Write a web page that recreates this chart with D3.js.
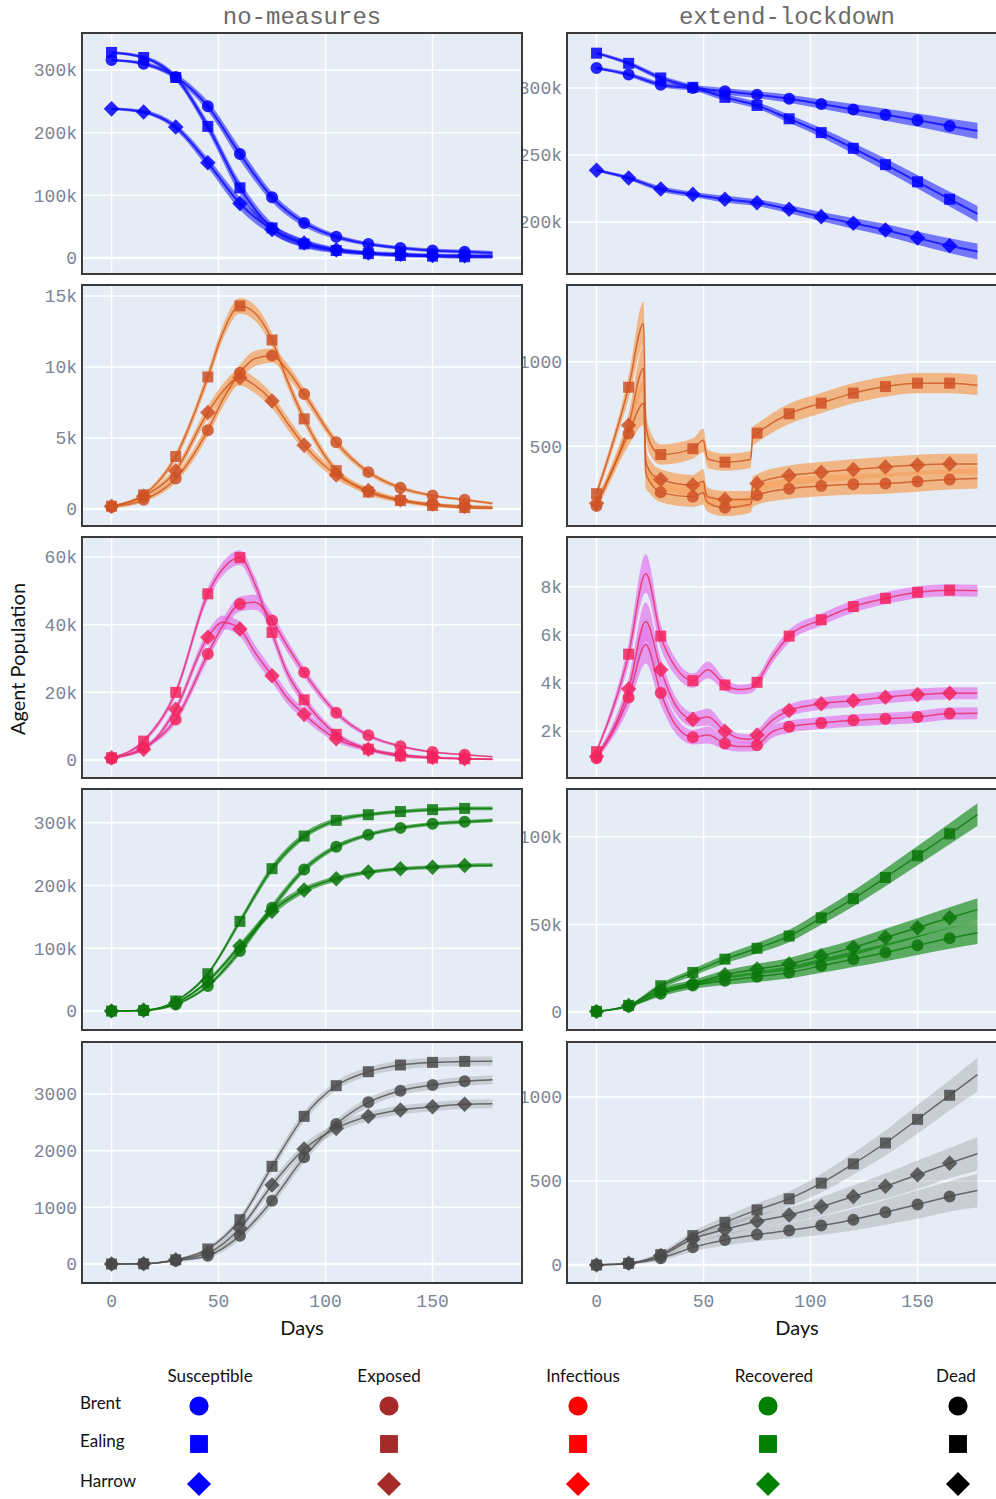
<!DOCTYPE html>
<html>
<head>
<meta charset="utf-8">
<script src="https://cdn.jsdelivr.net/npm/d3@7"></script>
<style>
  body { margin: 0; background: #fff; }
  svg { display: block; }
  .tick { font-family: 'Liberation Mono', 'Courier New', monospace; font-size: 18px; fill: #7b8496; }
  .col-title { font-family: 'Liberation Mono', 'Courier New', monospace; font-size: 24px; fill: #6a6a6a; }
  .axis-title { font-family: Lato, 'Open Sans', sans-serif; font-size: 20px; fill: #111; }
  .legend-text { font-family: Lato, 'Open Sans', sans-serif; font-size: 17px; fill: #111; }
</style>
</head>
<body>
<svg id="chart" width="996" height="1499"></svg>
<script>
// ---- labels ----
const BOROUGHS = ['Brent', 'Ealing', 'Harrow'];
const STATES = ['Susceptible', 'Exposed', 'Infectious', 'Recovered', 'Dead'];
const SCENARIOS = ['no-measures', 'extend-lockdown'];
const MARKER_DAYS = [0, 15, 30, 45, 60, 75, 90, 105, 120, 135, 150, 165];
const X_TICKS = [0, 50, 100, 150];

// ---- day grids the values were read at ----
const DAYS = [0, 15, 30, 45, 60, 75, 90, 105, 120, 135, 150, 165, 178];
const PEAK_DAYS = [0, 15, 30, 45, 52, 60, 67, 75, 82, 90, 105, 120, 135, 150, 165, 178];
const LOCK_E_DAYS = [0, 15, 22, 23, 25, 30, 45, 50, 51, 52, 60, 72, 73, 75, 90, 105, 120, 135, 150, 165, 178];
const LOCK_I_DAYS = [0, 15, 23, 30, 37, 45, 52, 60, 67, 72, 75, 82, 90, 105, 120, 135, 150, 165, 178];

// ---- Susceptible ----
const nmSusBrent  = [316000, 310000, 289000, 242000, 166000, 97000, 56000, 34000, 22500, 16000, 12000, 10000, 8000];
const nmSusEaling = [328000, 320000, 288000, 210000, 112000, 48000, 22500, 12000, 7000, 4000, 3000, 2000, 2000];
const nmSusHarrow = [238000, 233000, 209000, 152000, 87000, 45500, 24000, 13000, 8000, 6000, 4000, 3500, 3000];
const nmSusSpread = [2000, 3000, 5000, 8000, 10000, 8000, 6000, 4000, 3000, 3000, 3000, 3000, 3000];

const lkSusBrent  = [315000, 310000, 302500, 300000, 297500, 295000, 292000, 288000, 284000, 280000, 276000, 271600, 268000];
const lkSusEaling = [326000, 318400, 307500, 300500, 293000, 287000, 277000, 266700, 255000, 242800, 230000, 217000, 206000];
const lkSusHarrow = [238600, 232800, 224600, 220600, 217000, 214400, 209500, 204000, 199000, 194000, 188000, 182300, 178000];
const lkSusSpread = [1000, 1500, 2000, 2000, 2500, 2500, 3000, 3500, 4000, 4500, 5000, 5500, 6000];

// ---- Exposed ----
const nmExpBrent  = [150, 650, 2150, 5550, 7700, 9600, 10600, 10800, 9800, 8100, 4700, 2600, 1500, 950, 650, 400];
const nmExpEaling = [200, 1000, 3700, 9300, 12400, 14300, 13800, 11900, 9100, 6350, 2700, 1200, 600, 250, 100, 50];
const nmExpHarrow = [200, 900, 2700, 6800, 8300, 9250, 8700, 7600, 6100, 4500, 2400, 1300, 650, 350, 200, 150];
const nmExpSpread = [100, 150, 300, 450, 500, 550, 550, 500, 450, 400, 300, 200, 150, 100, 100, 100];

const lkExpBrent  = [147, 575, 755, 343, 290, 229, 202, 225, 186, 167, 137, 157, 196, 210, 249, 265, 275, 280, 292, 304, 310];
const lkExpEaling = [220, 849, 1225, 637, 520, 451, 486, 535, 470, 425, 406, 422, 559, 578, 692, 755, 814, 853, 873, 873, 861];
const lkExpHarrow = [163, 624, 961, 412, 350, 304, 271, 294, 225, 200, 186, 186, 265, 280, 327, 347, 363, 378, 390, 396, 396];
const lkExpSpread = [30, 70, 130, 90, 70, 60, 60, 70, 60, 55, 50, 50, 55, 55, 60, 60, 60, 60, 60, 60, 60];

// ---- Infectious ----
const nmInfBrent  = [400, 3700, 12000, 31300, 39700, 46100, 46600, 41200, 33800, 25900, 14000, 7300, 4100, 2400, 1600, 1000];
const nmInfEaling = [700, 5600, 20000, 49100, 56500, 59800, 52000, 37700, 25900, 17800, 7600, 3200, 1200, 600, 400, 200];
const nmInfHarrow = [700, 3200, 15000, 36300, 40700, 38700, 31800, 24900, 18500, 13500, 6300, 3200, 1600, 800, 400, 300];
const nmInfSpread = [300, 600, 1200, 1800, 2000, 2200, 2200, 2000, 1800, 1500, 1000, 600, 400, 300, 200, 200];

const lkInfBrent  = [880, 3400, 5600, 3590, 2250, 1750, 1840, 1490, 1360, 1360, 1420, 1970, 2180, 2340, 2450, 2520, 2590, 2730, 2750];
const lkInfEaling = [1150, 5200, 8550, 5950, 4650, 4100, 4550, 3920, 3730, 3780, 4030, 5050, 5950, 6630, 7180, 7520, 7770, 7860, 7840];
const lkInfHarrow = [950, 3750, 6560, 4550, 3070, 2490, 2590, 2000, 1700, 1670, 1840, 2450, 2860, 3140, 3270, 3410, 3520, 3580, 3580];
const lkInfSpread = [100, 450, 800, 500, 350, 300, 350, 250, 200, 200, 220, 250, 250, 250, 250, 250, 250, 250, 250];

// ---- Recovered ----
const nmRecBrent  = [0, 1000, 10600, 40000, 95600, 164600, 225700, 262000, 281000, 292000, 298500, 301600, 303800];
const nmRecEaling = [0, 1000, 16000, 59500, 143000, 227000, 279000, 304000, 313000, 318000, 321000, 323000, 323000];
const nmRecHarrow = [0, 1500, 13000, 47800, 103600, 159000, 193000, 211000, 221500, 226800, 229400, 232000, 232600];
const nmRecSpread = [0, 500, 1500, 3000, 5000, 6000, 5000, 4000, 3000, 3000, 3000, 3000, 3000];

const lkRecBrent  = [300, 3200, 10400, 15100, 17900, 20200, 22600, 26400, 30200, 34000, 38100, 42100, 45300];
const lkRecEaling = [400, 3800, 15000, 22600, 30200, 36400, 43400, 53800, 64700, 76800, 89200, 101700, 112600];
const lkRecHarrow = [300, 3800, 12300, 16400, 21300, 24500, 27400, 32100, 36800, 42500, 48100, 53800, 58500];
const lkRecSpread = [100, 500, 1500, 2000, 2500, 3000, 3500, 4000, 4500, 5000, 5500, 6000, 6500];

// ---- Dead ----
const nmDeadBrent  = [0, 5, 59, 147, 500, 1118, 1882, 2470, 2853, 3059, 3159, 3224, 3253];
const nmDeadEaling = [0, 3, 76, 265, 782, 1724, 2606, 3147, 3394, 3512, 3559, 3576, 3580];
const nmDeadHarrow = [0, 5, 76, 194, 630, 1394, 2029, 2394, 2606, 2718, 2776, 2818, 2829];
const nmDeadSpread = [0, 5, 15, 40, 70, 90, 90, 80, 80, 80, 80, 80, 80];

const lkDeadBrent  = [0, 8, 40, 105, 149, 181, 205, 235, 270, 314, 360, 408, 443];
const lkDeadEaling = [0, 10, 62, 175, 254, 328, 394, 487, 602, 726, 867, 1010, 1133];
const lkDeadHarrow = [0, 10, 56, 155, 211, 260, 298, 348, 408, 469, 537, 606, 662];
const lkDeadSpread = [0, 5, 15, 25, 35, 40, 45, 55, 65, 75, 85, 90, 100];

// ---- axes ----
const Y_TICKS = [
  [[0, 100000, 200000, 300000], [200000, 250000, 300000]],
  [[0, 5000, 10000, 15000], [500, 1000]],
  [[0, 20000, 40000, 60000], [2000, 4000, 6000, 8000]],
  [[0, 100000, 200000, 300000], [0, 50000, 100000]],
  [[0, 1000, 2000, 3000], [0, 500, 1000]]
];
const Y_RANGES = [
  [[-25532, 359043], [161194, 341045]],
  [[-1192, 15771], [29, 1453]],
  [[-5294, 65882], [55, 10069]],
  [[-30159, 353968], [-10227, 127273]],
  [[-335, 3918], [-107, 1327]]
];

const panels = [
  { state: 0, scen: 0, days: DAYS, series: [nmSusBrent, nmSusEaling, nmSusHarrow], spread: nmSusSpread },
  { state: 0, scen: 1, days: DAYS, series: [lkSusBrent, lkSusEaling, lkSusHarrow], spread: lkSusSpread },
  { state: 1, scen: 0, days: PEAK_DAYS, series: [nmExpBrent, nmExpEaling, nmExpHarrow], spread: nmExpSpread },
  { state: 1, scen: 1, days: LOCK_E_DAYS, series: [lkExpBrent, lkExpEaling, lkExpHarrow], spread: lkExpSpread },
  { state: 2, scen: 0, days: PEAK_DAYS, series: [nmInfBrent, nmInfEaling, nmInfHarrow], spread: nmInfSpread },
  { state: 2, scen: 1, days: LOCK_I_DAYS, series: [lkInfBrent, lkInfEaling, lkInfHarrow], spread: lkInfSpread },
  { state: 3, scen: 0, days: DAYS, series: [nmRecBrent, nmRecEaling, nmRecHarrow], spread: nmRecSpread },
  { state: 3, scen: 1, days: DAYS, series: [lkRecBrent, lkRecEaling, lkRecHarrow], spread: lkRecSpread },
  { state: 4, scen: 0, days: DAYS, series: [nmDeadBrent, nmDeadEaling, nmDeadHarrow], spread: nmDeadSpread },
  { state: 4, scen: 1, days: DAYS, series: [lkDeadBrent, lkDeadEaling, lkDeadHarrow], spread: lkDeadSpread }
];

// ---- layout / style ----
const colX = [82, 567], panelW = 440;
const rowY = [33, 285, 537, 789, 1042], panelH = 241;
const xDomain = [-13.8, 191.8];
const STATE_COLORS = ['#0000ff', '#a52a2a', '#ff0000', '#008000', '#000000'];   // legend
const MARK_COLORS  = ['#0000ff', '#cf5226', '#f2245e', '#0a750a', '#4a4a4a'];   // plotted markers
const LINE_COLORS  = ['#1010ff', '#cc5a28', '#e8306a', '#107a10', '#555555'];
const BAND_COLORS  = ['rgba(0,0,255,0.5)', 'rgba(244,164,96,0.75)', 'rgba(228,120,235,0.7)',
                      'rgba(0,128,0,0.6)', 'rgba(150,150,150,0.35)'];

const svg = d3.select('#chart');
svg.append('rect').attr('width', 996).attr('height', 1499).attr('fill', '#fff');

function symbolPath(shape, area) {
  const type = shape === 0 ? d3.symbolCircle : d3.symbolSquare;
  return d3.symbol().type(type).size(area)();
}

function fmtTick(v, ticks) {
  if (d3.max(ticks) > 3000 && v !== 0) return (v / 1000) + 'k';
  return String(v);
}

function drawPanel(p) {
  const x0 = colX[p.scen], y0 = rowY[p.state];
  const x = d3.scaleLinear().domain(xDomain).range([x0, x0 + panelW]);
  const y = d3.scaleLinear().domain(Y_RANGES[p.state][p.scen]).range([y0 + panelH, y0]);
  const ticks = Y_TICKS[p.state][p.scen];
  const g = svg.append('g');
  const clipId = `clip-${p.state}-${p.scen}`;

  g.append('clipPath').attr('id', clipId)
    .append('rect').attr('x', x0).attr('y', y0).attr('width', panelW).attr('height', panelH);

  g.selectAll('text.ylab').data(ticks).enter().append('text')
    .attr('class', 'tick ylab')
    .attr('x', x0 - 5).attr('y', d => y(d)).attr('dy', '0.35em')
    .attr('text-anchor', 'end')
    .text(d => fmtTick(d, ticks));

  g.append('rect').attr('x', x0).attr('y', y0).attr('width', panelW).attr('height', panelH)
    .attr('fill', '#e5ecf6');

  const plot = g.append('g').attr('clip-path', `url(#${clipId})`);

  plot.selectAll('line.xg').data(X_TICKS).enter().append('line')
    .attr('x1', d => x(d)).attr('x2', d => x(d)).attr('y1', y0).attr('y2', y0 + panelH)
    .attr('stroke', '#fff').attr('stroke-width', 1.5);
  plot.selectAll('line.yg').data(ticks).enter().append('line')
    .attr('x1', x0).attr('x2', x0 + panelW).attr('y1', d => y(d)).attr('y2', d => y(d))
    .attr('stroke', '#fff').attr('stroke-width', d => d === 0 ? 2.5 : 1.5);

  const rowsOf = vals => p.days.map((d, i) => ({ d, v: vals[i], s: p.spread[i] }));
  const area = d3.area().curve(d3.curveMonotoneX)
    .x(r => x(r.d)).y0(r => y(r.v - r.s)).y1(r => y(r.v + r.s));
  const line = d3.line().curve(d3.curveMonotoneX).x(r => x(r.d)).y(r => y(r.v));

  p.series.forEach(vals => {
    plot.append('path').datum(rowsOf(vals)).attr('d', area).attr('fill', BAND_COLORS[p.state]);
  });
  p.series.forEach(vals => {
    plot.append('path').datum(rowsOf(vals)).attr('d', line)
      .attr('fill', 'none').attr('stroke', LINE_COLORS[p.state]).attr('stroke-opacity', 0.85)
      .attr('stroke-width', p.state === 0 ? 2 : 1.5);
  });
  p.series.forEach((vals, bi) => {
    const pts = MARKER_DAYS.map(d => ({ d, v: vals[p.days.indexOf(d)] }));
    const size = bi === 0 ? 113 : 121;
    plot.selectAll(null).data(pts).enter().append('path')
      .attr('d', symbolPath(bi, size))
      .attr('transform', r => `translate(${x(r.d)},${y(r.v)})` + (bi === 2 ? ' rotate(45)' : ''))
      .attr('fill', MARK_COLORS[p.state]).attr('fill-opacity', 0.85);
  });

  g.append('rect').attr('x', x0).attr('y', y0).attr('width', panelW).attr('height', panelH)
    .attr('fill', 'none').attr('stroke', '#3a3a3a').attr('stroke-width', 2);

  if (p.state === STATES.length - 1) {
    g.selectAll('text.xlab').data(X_TICKS).enter().append('text')
      .attr('class', 'tick xlab')
      .attr('x', d => x(d)).attr('y', 1301).attr('dy', '0.35em')
      .attr('text-anchor', 'middle')
      .text(d => d);
  }
}

// right column first so the left frames sit over overflowing tick labels
panels.filter(p => p.scen === 1).forEach(drawPanel);
panels.filter(p => p.scen === 0).forEach(drawPanel);

// column titles
svg.selectAll('text.col-title').data(SCENARIOS).enter().append('text')
  .attr('class', 'col-title')
  .attr('x', (d, i) => colX[i] + panelW / 2).attr('y', 16).attr('dy', '0.35em')
  .attr('text-anchor', 'middle')
  .text(d => d);

// axis titles
svg.append('text').attr('class', 'axis-title')
  .attr('transform', 'translate(18,659) rotate(-90)')
  .attr('text-anchor', 'middle').attr('dy', '0.35em')
  .text('Agent Population');
[302, 797].forEach(cx => {
  svg.append('text').attr('class', 'axis-title')
    .attr('x', cx).attr('y', 1328).attr('dy', '0.35em')
    .attr('text-anchor', 'middle')
    .text('Days');
});

// legend grid
const legendColX = [199, 389, 578, 768, 958];
const legendHeadX = [210, 389, 583, 774, 956];
const legendRowY = [1406, 1444, 1484];
const legend = svg.append('g');
legend.selectAll('text.head').data(STATES).enter().append('text')
  .attr('class', 'legend-text')
  .attr('x', (d, i) => legendHeadX[i]).attr('y', 1376).attr('dy', '0.35em')
  .attr('text-anchor', 'middle')
  .text(d => d);
legend.selectAll('text.row').data(BOROUGHS).enter().append('text')
  .attr('class', 'legend-text')
  .attr('x', 80).attr('y', (d, i) => legendRowY[i] - 3).attr('dy', '0.35em')
  .text(d => d);
STATES.forEach((s, si) => {
  BOROUGHS.forEach((b, bi) => {
    const size = [290, 320, 290][bi];
    legend.append('path')
      .attr('d', symbolPath(bi, size))
      .attr('transform', `translate(${legendColX[si]},${legendRowY[bi]})` + (bi === 2 ? ' rotate(45)' : ''))
      .attr('fill', STATE_COLORS[si]);
  });
});
</script>
</body>
</html>
